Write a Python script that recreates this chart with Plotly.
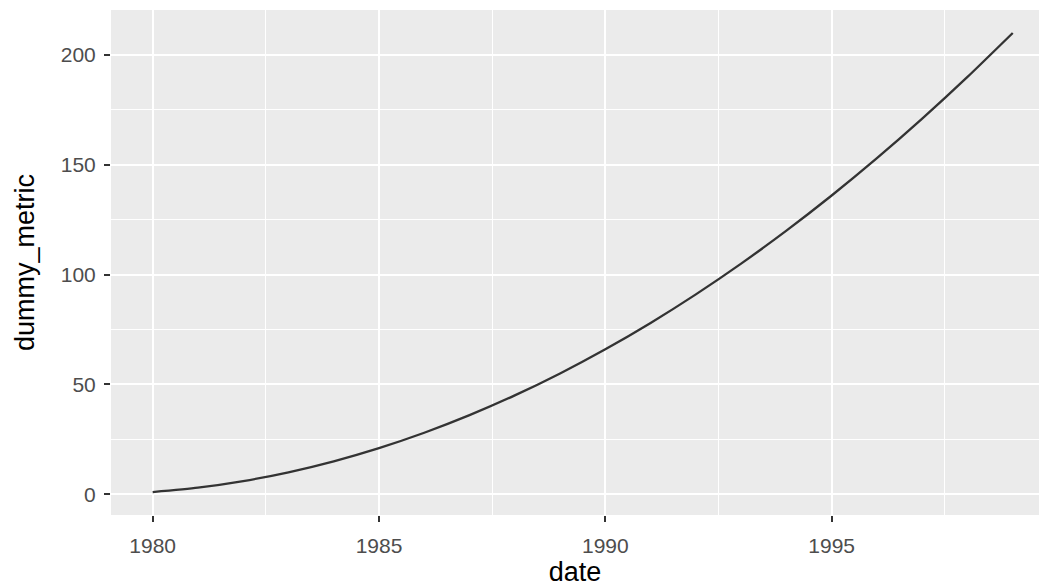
import plotly.graph_objects as go

years = [1980, 1981, 1982, 1983, 1984, 1985, 1986, 1987, 1988, 1989,
         1990, 1991, 1992, 1993, 1994, 1995, 1996, 1997, 1998, 1999]
dummy_metric = [1, 3, 6, 10, 15, 21, 28, 36, 45, 55,
                66, 78, 91, 105, 120, 136, 153, 171, 190, 210]
x_ticks = [1980, 1985, 1990, 1995]
y_ticks = [0, 50, 100, 150, 200]

FONT = "Liberation Sans, Arial, sans-serif"

fig = go.Figure()
fig.add_trace(go.Scatter(
    x=years, y=dummy_metric, mode="lines",
    line=dict(color="#333333", width=2.3, shape="spline", smoothing=0.6),
    showlegend=False, hoverinfo="skip",
))

axis_common = dict(
    showline=False, zeroline=False,
    gridcolor="white", gridwidth=2,
    ticks="outside", ticklen=6, tickwidth=1.5, tickcolor="#333333",
    tickfont=dict(family=FONT, size=21, color="#4d4d4d"),
    title_font=dict(family=FONT, size=27, color="#000000"),
)

fig.update_xaxes(
    **axis_common,
    range=[1979.08, 1999.58],
    tickvals=x_ticks, ticktext=[str(v) for v in x_ticks],
    minor=dict(dtick=2.5, tick0=1980, gridcolor="white", gridwidth=1, showgrid=True, ticks=""),
    title_text="date", title_standoff=6,
    ticklabelstandoff=6,
)
fig.update_yaxes(
    **axis_common,
    range=[-9.45, 220.45],
    tickvals=y_ticks, ticktext=[str(v) for v in y_ticks],
    minor=dict(dtick=25, tick0=0, gridcolor="white", gridwidth=1, showgrid=True, ticks=""),
    title_text="dummy_metric", title_standoff=18,
    ticklabelstandoff=4,
)

fig.update_layout(
    width=1039, height=587,
    margin=dict(l=111, r=0, t=10, b=72),
    paper_bgcolor="white", plot_bgcolor="#ebebeb",
    font=dict(family=FONT),
)

fig.write_html(
    "out.html",
    config={"displayModeBar": False},
    post_script="document.body.style.margin='0';document.body.style.overflow='hidden';",
)
